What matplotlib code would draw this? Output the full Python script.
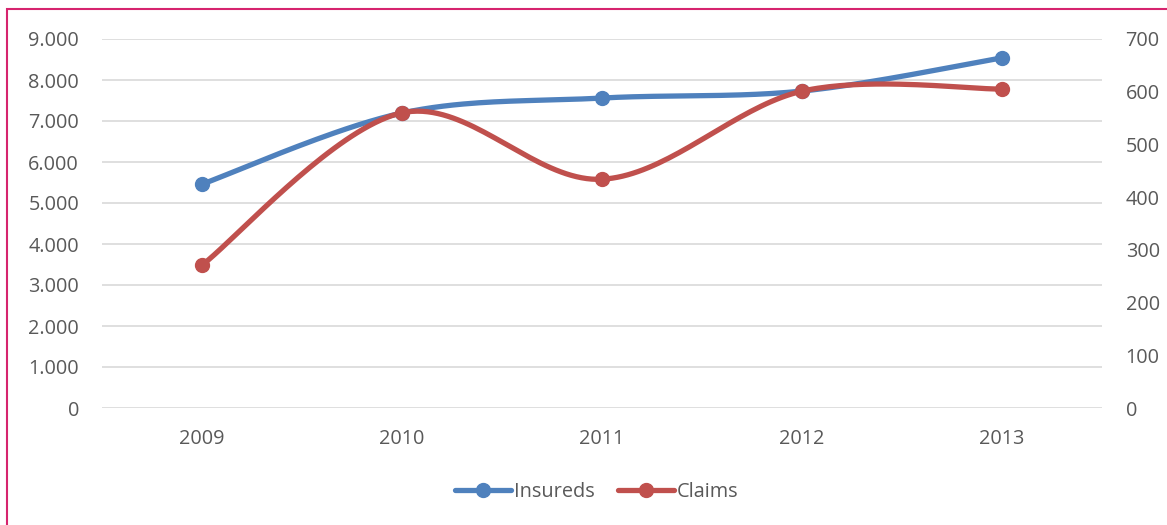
import numpy as np
import matplotlib
matplotlib.use("Agg")
import matplotlib.pyplot as plt
from matplotlib.patches import Rectangle
from matplotlib.lines import Line2D
from matplotlib.ticker import FuncFormatter, MultipleLocator

years = ["2009", "2010", "2011", "2012", "2013"]
insureds = [5460, 7195, 7560, 7730, 8540]
claims = [271, 560, 434, 601, 605]

BLUE = "#4F81BD"
RED = "#C0504D"
TXT = "#595959"
plt.rcParams['font.family'] = ['Open Sans', 'DejaVu Sans']

def smooth(xs, ys, n=40):
    # Excel-like smoothed line: cubic Bezier with Catmull-Rom control points
    xs = np.asarray(xs, float); ys = np.asarray(ys, float)
    P = np.column_stack([xs, ys])
    out = []
    for i in range(len(P) - 1):
        p0 = P[i - 1] if i > 0 else P[i]
        p1 = P[i]; p2 = P[i + 1]
        p3 = P[i + 2] if i + 2 < len(P) else P[i + 1]
        c1 = p1 + (p2 - p0) / 6.0
        c2 = p2 - (p3 - p1) / 6.0
        t = np.linspace(0, 1, n)[:, None]
        seg = (1 - t) ** 3 * p1 + 3 * (1 - t) ** 2 * t * c1 + 3 * (1 - t) * t ** 2 * c2 + t ** 3 * p2
        out.append(seg if i == 0 else seg[1:])
    s = np.vstack(out)
    return s[:, 0], s[:, 1]

W, H = 1167, 525
fig = plt.figure(figsize=(W / 100, H / 100), dpi=100)
fig.patch.set_facecolor("white")
fig.patches.append(Rectangle((7 / W, -0.05), 1.2, (525 - 9) / H + 0.05, transform=fig.transFigure,
                             fill=False, edgecolor="#D6246E", linewidth=1.5, zorder=0))

ax = fig.add_axes([102 / W, (525 - 408) / H, 1000 / W, (408 - 39) / H])
ax2 = ax.twinx()
x = np.arange(len(years))

ax.set_xlim(-0.5, len(years) - 0.5)
ax.set_ylim(0, 9000)
ax2.set_ylim(0, 700)
ax.yaxis.set_major_locator(MultipleLocator(1000))
ax2.yaxis.set_major_locator(MultipleLocator(100))
ax.yaxis.set_major_formatter(FuncFormatter(lambda v, p: f"{int(v):,}".replace(",", ".")))
ax.grid(axis="y", color="#D9D9D9", linewidth=1.2)
ax.set_axisbelow(True)
FS = 14.3
for a in (ax, ax2):
    for s in a.spines.values():
        s.set_visible(False)
    a.tick_params(length=0, labelsize=FS, labelcolor=TXT)
ax.tick_params(axis="y", pad=16.5)
ax2.tick_params(axis="y", pad=17)
ax.tick_params(axis="x", pad=15)
ax.set_xticks(x)
ax.set_xticklabels(years)

sx, sy = smooth(x, insureds)
ax.plot(sx, sy, color=BLUE, linewidth=3.8, solid_capstyle="round", zorder=3)
ax.plot(x, insureds, "o", color=BLUE, markersize=10, zorder=4)
cx, cy = smooth(x, claims)
ax2.plot(cx, cy, color=RED, linewidth=3.8, solid_capstyle="round", zorder=3)
ax2.plot(x, claims, "o", color=RED, markersize=10, zorder=4)

handles = [Line2D([], [], color=BLUE, linewidth=3.8, marker="o", markersize=10, solid_capstyle="round"),
           Line2D([], [], color=RED, linewidth=3.8, marker="o", markersize=10, solid_capstyle="round")]
fig.legend(handles, ["Insureds", "Claims"], loc="center", bbox_to_anchor=(597 / W, (525 - 492) / H),
           ncol=2, frameon=False, fontsize=FS, handlelength=2.8, handletextpad=0.15, columnspacing=1.2,
           labelcolor=TXT)

fig.savefig("out.png", dpi=100)
